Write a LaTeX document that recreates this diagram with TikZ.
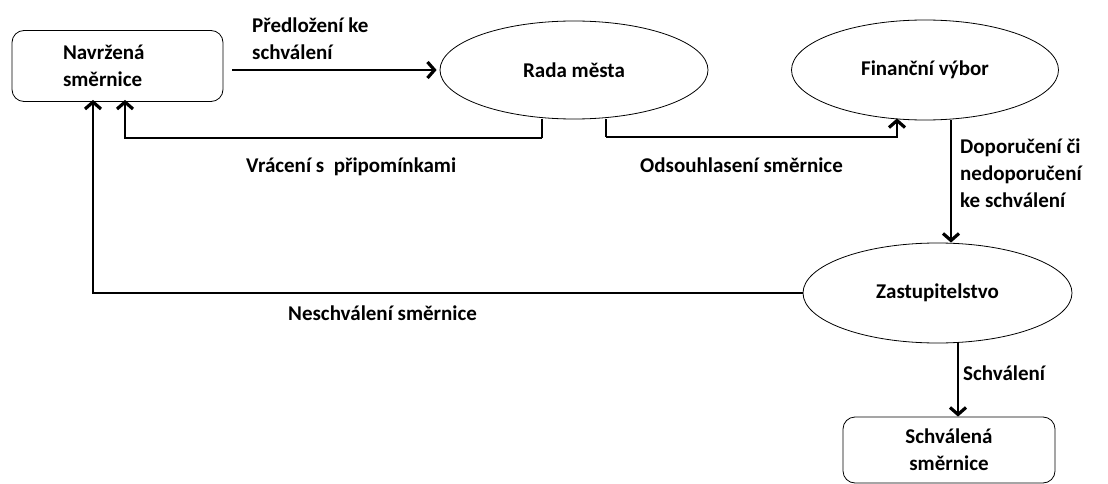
\documentclass[tikz,border=0pt]{standalone}
\usepackage{fontspec}
\setmainfont{Carlito}
\usetikzlibrary{shapes.geometric,arrows.meta,calc}
\begin{document}
\begin{tikzpicture}[x=1pt,y=-1pt,
  every node/.style={font=\fontsize{21}{27}\selectfont\bfseries},
  ell/.style={draw,ellipse,line width=0.8pt,inner sep=0pt},
  rbox/.style={draw,rectangle,rounded corners=12pt,line width=0.8pt,align=center,inner sep=0pt},
  lbl/.style={align=left,anchor=west,inner sep=0pt},
  conn/.style={line width=1.2pt,-{Straight Barb[length=7pt,width=16pt,line width=3.2pt]}},
  plain/.style={line width=1.2pt}]
\useasboundingbox (0,0) rectangle (1108,484);
\node[rbox,align=left,text width=109,inner xsep=51,minimum height=71] (nav) at (117.5,66) {Navržená\\směrnice};
\node[ell,minimum width=268,minimum height=98] (rada) at (574,70) {Rada města};
\node[ell,minimum width=267,minimum height=100] (fin) at (925,70) {Finanční výbor};
\node[ell,minimum width=269,minimum height=100] (zast) at (937.5,293) {Zastupitelstvo};
\node[rbox,minimum width=212,minimum height=66] (schv) at (949,450) {Schválená\\směrnice};

\coordinate (r1) at ([xshift=-32]rada.south);
\coordinate (r2) at ([xshift=32]rada.south);
\coordinate (n1) at ([xshift=7.5,yshift=2]nav.south);
\coordinate (n2) at ([xshift=-24.5,yshift=2]nav.south);
\coordinate (f1) at ([xshift=-28,yshift=2]fin.south);
\coordinate (b1) at (r1 |- 0,138);
\coordinate (b2) at (r2 |- 0,137);

\draw[conn,shorten <=9pt,shorten >=3pt] (nav.east |- rada.west) -- (rada.west);
\node[lbl] (l1) at (252,39) {Předložení ke\\schválení};

\draw[plain] (r1) -- (b1);
\draw[conn] (b1) -| (n1);
\node[lbl] (l2) at (246,167) {Vrácení s\ \ připomínkami};

\draw[plain] (r2) -- (b2);
\draw[conn] (b2) -| (f1);
\node[lbl] (l3) at (640,165) {Odsouhlasení směrnice};

\draw[conn] ([xshift=26]fin.south) -- ([xshift=13.5]zast.north);
\node[lbl] (l4) at (960,173) {Doporučení či\\nedoporučení\\ke schválení};

\draw[conn] (zast.west) -| (n2);
\node[lbl] (l5) at (288,313) {Neschválení směrnice};

\draw[conn] ([xshift=20.5]zast.south) -- ([xshift=9]schv.north);
\node[lbl] (l6) at (963,373) {Schválení};
\end{tikzpicture}
\end{document}
